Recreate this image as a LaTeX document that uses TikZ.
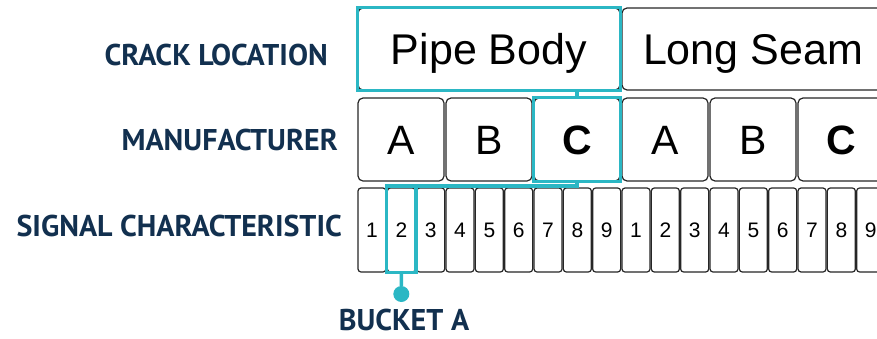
\documentclass[tikz,border=0pt]{standalone}
\usepackage{fontspec}
\setmainfont{Liberation Sans}
\newfontfamily\labfont{PT Sans}
\definecolor{navy}{HTML}{12304F}
\definecolor{tl}{HTML}{2BB7C4}
\begin{document}
\begin{tikzpicture}[x=1pt,y=-1pt,
  box/.style={draw=black!85, line width=1.2pt, rounded corners=5pt, fill=white, inner sep=0pt, text depth=0pt},
  big/.style={box, minimum width=262pt, minimum height=82pt, font=\fontsize{43}{43}\selectfont, text height=30pt},
  mid/.style={box, minimum width=86pt, minimum height=83pt, font=\fontsize{41}{41}\selectfont, text height=29pt},
  sig/.style={box, minimum width=28pt, minimum height=84pt, rounded corners=3pt, font=\fontsize{21}{21}\selectfont, text height=15pt},
  hl/.style={draw=tl, line width=3.5pt},
  lab/.style={font=\labfont\bfseries\fontsize{30}{30}\selectfont, text=navy, inner sep=0pt, anchor=base east}]
\useasboundingbox (0,0) rectangle (877,338);
\begin{scope}
\clip (0,0) rectangle (877,338);
\node[big] (pb) at (489,49) {Pipe Body};
\node[big] (ls) at (753,49) {Long Seam};
\node[mid] (mA1) at (401,139.5) {A};
\node[mid] (mB1) at (489,139.5) {B};
\node[mid] (mC1) at (577,139.5) {\bfseries C};
\node[mid] (mA2) at (665,139.5) {A};
\node[mid] (mB2) at (753,139.5) {B};
\node[mid] (mC2) at (841,139.5) {\bfseries C};
\foreach \k in {1,...,9}{
  \node[sig] (s\k) at ({372+29.333*(\k-1)},230) {\k};
  \node[sig] (t\k) at ({636+29.333*(\k-1)},230) {\k};
}
\end{scope}
% highlights
\draw[hl] (pb.north west) rectangle (pb.south east);
\draw[hl] (mC1.north west) rectangle (mC1.south east);
\draw[hl] (mC1.north) -- (mC1.north |- pb.south);
\draw[hl] (mC1.south) |- ([yshift=1.5pt]s2.north west);
\draw[hl] ([yshift=1.5pt]s2.north west) rectangle (s2.south east);
\node[circle, fill=tl, minimum size=16pt, inner sep=0pt] (dot) at (401.3,294) {};
\draw[hl] (s2.south) -- (dot);
% labels
\node[lab] (l1) at (328,65) {CRACK LOCATION};
\node[lab] (l2) at (338,150) {MANUFACTURER};
\node[lab] (l3) at (342,236) {SIGNAL CHARACTERISTIC};
\node[lab, anchor=base] (bk) at (404,330) {BUCKET A};
\end{tikzpicture}
\end{document}
